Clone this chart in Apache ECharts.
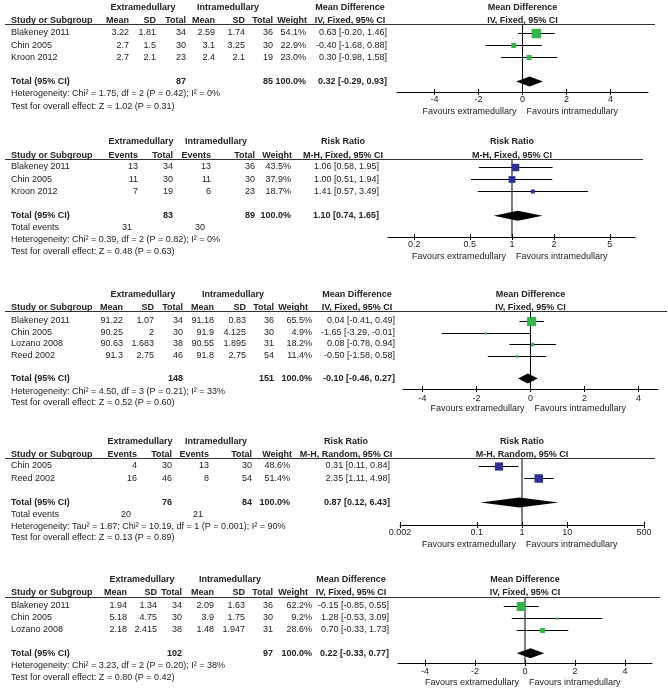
<!DOCTYPE html>
<html><head><meta charset="utf-8">
<script src="https://cdn.jsdelivr.net/npm/echarts@6/dist/echarts.min.js"></script>
<style>html,body{margin:0;padding:0;background:#fff}#c{width:668px;height:694px}</style>
</head><body><div id="c"></div>
<script>
// ---------------- DATA ----------------
// Panel 1 (continuous, mean difference)
const p1Studies = ['Blakeney 2011', 'Chin 2005', 'Kroon 2012'];
const p1ExtMean = [3.22, 2.7, 2.7];
const p1ExtSD = [1.81, 1.5, 2.1];
const p1ExtN = [34, 30, 23];
const p1IntMean = [2.59, 3.1, 2.4];
const p1IntSD = [1.74, 3.25, 2.1];
const p1IntN = [36, 30, 19];
const p1Weight = [54.1, 22.9, 23.0];
const p1Est = [0.63, -0.40, 0.30];
const p1Lo = [-0.20, -1.68, -0.98];
const p1Hi = [1.46, 0.88, 1.58];
const p1Total = [0.32, -0.29, 0.93];
const p1TotalN = [87, 85];
const p1Het = 'Heterogeneity: Chi\u00b2 = 1.75, df = 2 (P = 0.42); I\u00b2 = 0%';
const p1Test = 'Test for overall effect: Z = 1.02 (P = 0.31)';

// Panel 2 (dichotomous, risk ratio fixed)
const p2Studies = ['Blakeney 2011', 'Chin 2005', 'Kroon 2012'];
const p2ExtEv = [13, 11, 7];
const p2ExtN = [34, 30, 19];
const p2IntEv = [13, 11, 6];
const p2IntN = [36, 30, 23];
const p2Weight = [43.5, 37.9, 18.7];
const p2Est = [1.06, 1.00, 1.41];
const p2Lo = [0.58, 0.51, 0.57];
const p2Hi = [1.95, 1.94, 3.49];
const p2Total = [1.10, 0.74, 1.65];
const p2TotalN = [83, 89];
const p2TotalEvents = [31, 30];
const p2Het = 'Heterogeneity: Chi\u00b2 = 0.39, df = 2 (P = 0.82); I\u00b2 = 0%';
const p2Test = 'Test for overall effect: Z = 0.48 (P = 0.63)';

// Panel 3 (continuous, mean difference)
const p3Studies = ['Blakeney 2011', 'Chin 2005', 'Lozano 2008', 'Reed 2002'];
const p3ExtMean = [91.22, 90.25, 90.63, 91.3];
const p3ExtSD = [1.07, 2, 1.683, 2.75];
const p3ExtN = [34, 30, 38, 46];
const p3IntMean = [91.18, 91.9, 90.55, 91.8];
const p3IntSD = [0.83, 4.125, 1.895, 2.75];
const p3IntN = [36, 30, 31, 54];
const p3Weight = [65.5, 4.9, 18.2, 11.4];
const p3Est = [0.04, -1.65, 0.08, -0.50];
const p3Lo = [-0.41, -3.29, -0.78, -1.58];
const p3Hi = [0.49, -0.01, 0.94, 0.58];
const p3Total = [-0.10, -0.46, 0.27];
const p3TotalN = [148, 151];
const p3Het = 'Heterogeneity: Chi\u00b2 = 4.50, df = 3 (P = 0.21); I\u00b2 = 33%';
const p3Test = 'Test for overall effect: Z = 0.52 (P = 0.60)';

// Panel 4 (dichotomous, risk ratio random)
const p4Studies = ['Chin 2005', 'Reed 2002'];
const p4ExtEv = [4, 16];
const p4ExtN = [30, 46];
const p4IntEv = [13, 8];
const p4IntN = [30, 54];
const p4Weight = [48.6, 51.4];
const p4Est = [0.31, 2.35];
const p4Lo = [0.11, 1.11];
const p4Hi = [0.84, 4.98];
const p4Total = [0.87, 0.12, 6.43];
const p4TotalN = [76, 84];
const p4TotalEvents = [20, 21];
const p4Het = 'Heterogeneity: Tau\u00b2 = 1.87; Chi\u00b2 = 10.19, df = 1 (P = 0.001); I\u00b2 = 90%';
const p4Test = 'Test for overall effect: Z = 0.13 (P = 0.89)';

// Panel 5 (continuous, mean difference)
const p5Studies = ['Blakeney 2011', 'Chin 2005', 'Lozano 2008'];
const p5ExtMean = [1.94, 5.18, 2.18];
const p5ExtSD = [1.34, 4.75, 2.415];
const p5ExtN = [34, 30, 38];
const p5IntMean = [2.09, 3.9, 1.48];
const p5IntSD = [1.63, 1.75, 1.947];
const p5IntN = [36, 30, 31];
const p5Weight = [62.2, 9.2, 28.6];
const p5Est = [-0.15, 1.28, 0.70];
const p5Lo = [-0.85, -0.53, -0.33];
const p5Hi = [0.55, 3.09, 1.73];
const p5Total = [0.22, -0.33, 0.77];
const p5TotalN = [102, 97];
const p5Het = 'Heterogeneity: Chi\u00b2 = 3.23, df = 2 (P = 0.20); I\u00b2 = 38%';
const p5Test = 'Test for overall effect: Z = 0.80 (P = 0.42)';

// Tick labels
const mdTicks = [-4, -2, 0, 2, 4];
const rrTicks2 = [0.2, 0.5, 1, 2, 5];
const rrTicks4 = [0.002, 0.1, 1, 10, 500];

// ---------------- BUILD ----------------
const GREEN = '#33b54a', BLUE = '#2e3192';
const MD_HEAD = ['Mean', 'SD', 'Total', 'Mean', 'SD', 'Total'];
const RR_HEAD = ['Events', 'Total', 'Events', 'Total'];
const PANELS = [
  {kind: 'md', studies: p1Studies, cols: [p1ExtMean, p1ExtSD, p1ExtN, p1IntMean, p1IntSD, p1IntN], weight: p1Weight, est: p1Est, lo: p1Lo, hi: p1Hi, total: p1Total, totalN: p1TotalN, het: p1Het, test: p1Test, title: 'Mean Difference', method: 'IV, Fixed, 95% CI', ticks: mdTicks, ref: 0, color: GREEN},
  {kind: 'rr', studies: p2Studies, cols: [p2ExtEv, p2ExtN, p2IntEv, p2IntN], weight: p2Weight, est: p2Est, lo: p2Lo, hi: p2Hi, total: p2Total, totalN: p2TotalN, events: p2TotalEvents, het: p2Het, test: p2Test, title: 'Risk Ratio', method: 'M-H, Fixed, 95% CI', ticks: rrTicks2, ref: 1, color: BLUE},
  {kind: 'md', studies: p3Studies, cols: [p3ExtMean, p3ExtSD, p3ExtN, p3IntMean, p3IntSD, p3IntN], weight: p3Weight, est: p3Est, lo: p3Lo, hi: p3Hi, total: p3Total, totalN: p3TotalN, het: p3Het, test: p3Test, title: 'Mean Difference', method: 'IV, Fixed, 95% CI', ticks: mdTicks, ref: 0, color: GREEN},
  {kind: 'rr', studies: p4Studies, cols: [p4ExtEv, p4ExtN, p4IntEv, p4IntN], weight: p4Weight, est: p4Est, lo: p4Lo, hi: p4Hi, total: p4Total, totalN: p4TotalN, events: p4TotalEvents, het: p4Het, test: p4Test, title: 'Risk Ratio', method: 'M-H, Random, 95% CI', ticks: rrTicks4, ref: 1, color: BLUE},
  {kind: 'md', studies: p5Studies, cols: [p5ExtMean, p5ExtSD, p5ExtN, p5IntMean, p5IntSD, p5IntN], weight: p5Weight, est: p5Est, lo: p5Lo, hi: p5Hi, total: p5Total, totalN: p5TotalN, het: p5Het, test: p5Test, title: 'Mean Difference', method: 'IV, Fixed, 95% CI', ticks: mdTicks, ref: 0, color: GREEN}
];

// Layout (pixels)
const LAYOUT = [
  {hdr1: 8, hdr2: 20.5, line: 24, row0: 33, rowH: 12.1, totRow: 4, het: 94, test: 107, axis: 92, gridL: 397, gridR: 648, lineR: 655,
   colX: [129, 156, 186, 215, 245, 273], wX: 306, wHX: 307, ciX: 387, ciHC: 350, extC: 143, intC: 228, maxSq: 9.5, xMin: -5.7, xMax: 5.7, lblM: 3},
  {hdr1: 142, hdr2: 155.5, line: 159, row0: 167, rowH: 12.2, totRow: 4, ev: 228, het: 240, test: 252, axis: 237, gridL: 388, gridR: 635, lineR: 643,
   colX: [138, 173, 211, 255], wX: 291, wHX: 292, ciX: 379, ciHC: 343, extC: 141, intC: 216, maxSq: 7.5, xMin: 0.13, xMax: 7.57, lblM: 3},
  {hdr1: 295, hdr2: 307.5, line: 311, row0: 321, rowH: 11.5, totRow: 5, het: 392, test: 403, axis: 389, gridL: 403, gridR: 658, lineR: 667,
   colX: [123, 154, 183, 214, 246, 274], wX: 312, wHX: 308, ciX: 395, ciHC: 357, extC: 143, intC: 233, maxSq: 9, xMin: -4.72, xMax: 4.72, lblM: 5},
  {hdr1: 442, hdr2: 455, line: 458, row0: 466, rowH: 12.2, totRow: 3, ev: 515, het: 526.5, test: 538, axis: 525, gridL: 400, gridR: 644, lineR: 655,
   colX: [137, 172, 209, 252], wX: 290, wHX: 292, ciX: 390, ciHC: 346, extC: 140, intC: 216, maxSq: 8.5, xMin: 0.002, xMax: 500, lblM: 3},
  {hdr1: 580, hdr2: 593, line: 597, row0: 606, rowH: 11.8, totRow: 4, het: 666, test: 678, axis: 663, gridL: 398, gridR: 652, lineR: 660,
   colX: [127, 157, 182, 214, 245, 273], wX: 312, wHX: 308, ciX: 389, ciHC: 351, extC: 142, intC: 230, maxSq: 9, xMin: -5.08, xMax: 5.08, lblM: 4}
];

const FONT = '"Liberation Sans", Arial, sans-serif';
const TXT = '#222';

function makeStudyRender(color, maxSq, wmax) {
  return function (params, api) {
    const y = api.value(1);
    const p = api.coord([api.value(0), y]);
    const a = api.coord([api.value(2), y]);
    const b = api.coord([api.value(3), y]);
    const yy = Math.round(p[1]) + 0.5;
    const s = Math.max(2, maxSq * Math.pow(api.value(4) / wmax, 0.75));
    return {type: 'group', children: [
      {type: 'line', shape: {x1: a[0], y1: yy, x2: b[0], y2: yy}, style: {stroke: '#000', lineWidth: 1}},
      {type: 'rect', shape: {x: p[0] - s / 2, y: yy - s / 2, width: s, height: s}, style: {fill: color}}
    ]};
  };
}
function diamondRender(params, api) {
  const y = api.value(1);
  const c = api.coord([api.value(0), y]);
  const a = api.coord([api.value(2), y]);
  const b = api.coord([api.value(3), y]);
  return {type: 'polygon', shape: {points: [[a[0], c[1]], [c[0], c[1] - 5], [b[0], c[1]], [c[0], c[1] + 5]]}, style: {fill: '#000'}};
}

const grids = [], xMain = [], xInner = [], yAxes = [], series = [];
PANELS.forEach((P, i) => {
  const L = LAYOUT[i];
  grids.push({left: L.gridL, width: L.gridR - L.gridL, top: L.line, height: L.axis - L.line});
  const isLog = P.kind === 'rr';
  const base = {gridIndex: i, type: isLog ? 'log' : 'value', logBase: 10, min: L.xMin, max: L.xMax, splitLine: {show: false}, position: 'bottom', offset: 0};
  xMain.push(Object.assign({}, base, {
    axisLine: {show: true, onZero: false, lineStyle: {color: '#000', width: 1}},
    axisTick: {show: true, length: 3, customValues: P.ticks, lineStyle: {color: '#000'}},
    axisLabel: {customValues: P.ticks, margin: L.lblM, fontSize: 9, fontFamily: FONT, color: TXT, formatter: v => String(v)}
  }));
  xInner.push(Object.assign({}, base, {
    axisLine: {show: false, onZero: false},
    axisTick: {show: true, inside: true, length: 3, customValues: P.ticks, lineStyle: {color: '#000'}},
    axisLabel: {show: false}
  }));
  const yMin = (L.line - L.row0) / L.rowH, yMax = (L.axis - L.row0) / L.rowH;
  yAxes.push({gridIndex: i, type: 'value', inverse: true, min: yMin, max: yMax, show: false});
  series.push({type: 'line', xAxisIndex: i, yAxisIndex: i, data: [[P.ref, yMin], [P.ref, yMax]], symbol: 'none',
    lineStyle: {color: '#000', width: 1}, silent: true, z: 2});
  series.push({type: 'custom', xAxisIndex: i, yAxisIndex: i, z: 3, silent: true,
    renderItem: makeStudyRender(P.color, L.maxSq, Math.max.apply(null, P.weight)),
    data: P.est.map((e, j) => [e, j, P.lo[j], P.hi[j], P.weight[j]])});
  series.push({type: 'custom', xAxisIndex: i, yAxisIndex: i, z: 4, silent: true,
    renderItem: diamondRender, data: [[P.total[0], L.totRow, P.total[1], P.total[2]]]});
});

const chart = echarts.init(document.getElementById('c'));
chart.setOption({
  animation: false,
  backgroundColor: '#fff',
  textStyle: {fontFamily: FONT},
  grid: grids,
  xAxis: xMain.concat(xInner),
  yAxis: yAxes,
  series: series
});

// ---------------- TABLE TEXT ----------------
const els = [];
function txt(x, y, s, align, bold) {
  els.push({type: 'text', silent: true, z: 10, style: {x: x, y: y, text: s, font: (bold ? 'bold ' : '') + '9px ' + FONT,
    fill: TXT, align: align, verticalAlign: 'middle'}});
}
function ci(e, l, h) { return e.toFixed(2) + ' [' + l.toFixed(2) + ', ' + h.toFixed(2) + ']'; }

PANELS.forEach((P, i) => {
  const L = LAYOUT[i];
  const zx = chart.convertToPixel({xAxisIndex: i}, P.ref);
  const heads = P.kind === 'md' ? MD_HEAD : RR_HEAD;
  // header row 1
  txt(L.extC, L.hdr1, 'Extramedullary', 'center', true);
  txt(L.intC, L.hdr1, 'Intramedullary', 'center', true);
  txt(L.ciHC, L.hdr1, P.title, 'center', true);
  txt(zx, L.hdr1, P.title, 'center', true);
  // header row 2
  txt(11, L.hdr2, 'Study or Subgroup', 'left', true);
  heads.forEach((h, k) => txt(L.colX[k], L.hdr2, h, 'right', true));
  txt(L.wHX, L.hdr2, 'Weight', 'right', true);
  txt(L.ciHC, L.hdr2, P.method, 'center', true);
  txt(zx, L.hdr2, P.method, 'center', true);
  els.push({type: 'line', silent: true, z: 9, shape: {x1: 5, y1: L.line + 0.5, x2: L.lineR, y2: L.line + 0.5}, style: {stroke: '#333', lineWidth: 1}});
  // study rows
  P.studies.forEach((s, j) => {
    const y = L.row0 + j * L.rowH;
    txt(11, y, s, 'left', false);
    P.cols.forEach((col, k) => txt(L.colX[k], y, String(col[j]), 'right', false));
    txt(L.wX, y, P.weight[j].toFixed(1) + '%', 'right', false);
    txt(L.ciX, y, ci(P.est[j], P.lo[j], P.hi[j]), 'right', false);
  });
  // total row
  const ty = L.row0 + L.totRow * L.rowH;
  txt(11, ty, 'Total (95% CI)', 'left', true);
  const nIdx = P.kind === 'md' ? [2, 5] : [1, 3];
  txt(L.colX[nIdx[0]], ty, String(P.totalN[0]), 'right', true);
  txt(L.colX[nIdx[1]], ty, String(P.totalN[1]), 'right', true);
  txt(L.wX, ty, '100.0%', 'right', true);
  txt(L.ciX, ty, ci(P.total[0], P.total[1], P.total[2]), 'right', true);
  if (P.events) {
    txt(11, L.ev, 'Total events', 'left', false);
    txt(L.colX[0] - 6, L.ev, String(P.events[0]), 'right', false);
    txt(L.colX[2] - 6, L.ev, String(P.events[1]), 'right', false);
  }
  txt(11, L.het, P.het, 'left', false);
  txt(11, L.test, P.test, 'left', false);
  // favours labels
  txt(zx - 6, L.axis + 20, 'Favours extramedullary', 'right', false);
  txt(zx + 4, L.axis + 20, 'Favours intramedullary', 'left', false);
});
chart.setOption({graphic: {elements: els}});
</script></body></html>
